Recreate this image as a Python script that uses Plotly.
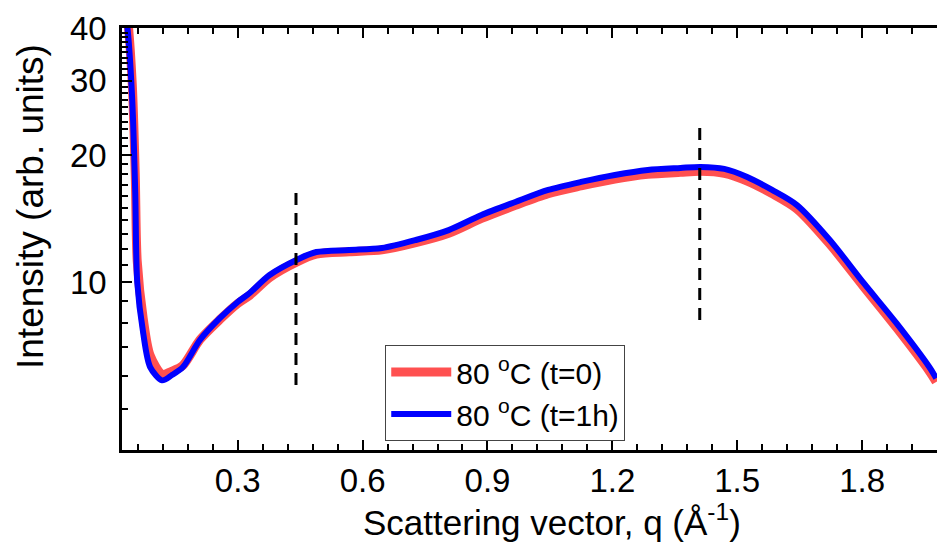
import plotly.graph_objects as go

# Scattering vector q (1/Angstrom)
q = [0.028, 0.0356, 0.0466, 0.0538, 0.0586, 0.0729, 0.0896, 0.1183, 0.142, 0.1685,
     0.2092, 0.257, 0.300, 0.3287, 0.3765, 0.441, 0.4889, 0.5677, 0.6466, 0.7279,
     0.8068, 0.8857, 0.967, 1.0459, 1.1248, 1.206, 1.285, 1.3638, 1.4117, 1.469,
     1.524, 1.5838, 1.6435, 1.7224, 1.8037, 1.8826, 1.9615, 1.978]

# 80 C (t=0)
i_t0 = [47.0, 42.0, 29.5, 18.0, 11.2, 8.2, 6.7, 6.05, 6.15, 6.35,
        7.3, 8.15, 8.9, 9.3, 10.25, 11.15, 11.65, 11.8, 11.92, 12.4,
        13.05, 14.15, 15.2, 16.2, 16.9, 17.55, 18.0, 18.2, 18.3, 18.1,
        17.35, 16.2, 14.9, 12.3, 9.75, 7.8, 6.15, 5.8]

# 80 C (t=1h)
i_t1h = [45.0, 39.6, 27.0, 16.3, 10.0, 7.57, 6.29, 5.85, 6.02, 6.29,
         7.29, 8.21, 8.97, 9.42, 10.39, 11.28, 11.78, 11.91, 12.04, 12.58,
         13.28, 14.42, 15.48, 16.53, 17.27, 17.94, 18.44, 18.64, 18.74, 18.54,
         17.74, 16.53, 15.22, 12.58, 9.95, 7.99, 6.29, 5.92]

series_names = ["80 <sup>o</sup>C (t=0)", "80 <sup>o</sup>C (t=1h)"]
peak_q = [0.44, 1.41]
peak_span = [(0.154, 0.623), (0.308, 0.777)]  # paper fractions

x_ticks = [0.3, 0.6, 0.9, 1.2, 1.5, 1.8]
y_ticks = [10, 20, 30, 40]
y_minor = [5, 6, 7, 8, 9] + list(range(11, 20)) + list(range(21, 40))

x_title = "Scattering vector, q (Å<sup>-1</sup>)"
y_title = "Intensity (arb. units)"

FONT = "Arial, Liberation Sans, sans-serif"

fig = go.Figure()
fig.add_trace(go.Scatter(x=q, y=i_t0, mode="lines", name=series_names[0],
                         line=dict(color="#ff5050", width=9, shape="spline", smoothing=0.8)))
fig.add_trace(go.Scatter(x=q, y=i_t1h, mode="lines", name=series_names[1],
                         line=dict(color="#0000ff", width=6, shape="spline", smoothing=0.8)))

for pq, (y0, y1) in zip(peak_q, peak_span):
    fig.add_shape(type="line", xref="x", yref="paper", x0=pq, x1=pq, y0=y0, y1=y1,
                  line=dict(color="black", width=3, dash="12px,8px"))

fig.add_annotation(text=x_title, xref="paper", yref="paper", x=0.528, y=-0.165,
                   xanchor="center", yanchor="middle", showarrow=False,
                   font=dict(size=35))
fig.add_annotation(text=y_title, xref="paper", yref="paper", x=-0.113, y=0.578,
                   xanchor="center", yanchor="middle", showarrow=False, textangle=-90,
                   font=dict(size=37))

fig.update_layout(
    width=937, height=542,
    margin=dict(l=122, r=0, t=28, b=92),
    paper_bgcolor="white", plot_bgcolor="white",
    font=dict(family=FONT, size=33, color="black"),
    showlegend=True,
    legend=dict(x=0.323, y=0.249, xanchor="left", yanchor="top",
                bgcolor="white", bordercolor="#444", borderwidth=1,
                font=dict(size=30), itemwidth=60, tracegroupgap=0),
    xaxis=dict(range=[0.022, 1.98], tickvals=x_ticks, ticktext=[f"{v:.1f}" for v in x_ticks],
               ticks="inside", ticklen=10, tickwidth=2, tickcolor="black",
               showline=True, linecolor="black", linewidth=2.5, mirror="ticks",
               showgrid=False, zeroline=False,
               minor=dict(tick0=0, dtick=0.06, ticks="inside", ticklen=6, tickwidth=2, tickcolor="black")),
    yaxis=dict(type="log", range=[0.60206, 1.60206], tickvals=y_ticks, ticktext=[str(v) for v in y_ticks],
               ticks="inside", ticklen=10, tickwidth=2, tickcolor="black",
               showline=True, linecolor="black", linewidth=2.5, mirror=False,
               showgrid=False, zeroline=False, ticklabelstandoff=6,
               minor=dict(tickvals=y_minor, ticks="inside", ticklen=6, tickwidth=2, tickcolor="black")),
    yaxis2=dict(type="log", range=[0.60206, 1.60206], overlaying="y", side="right",
                tickvals=y_ticks, showticklabels=False, ticks="inside", ticklen=6,
                tickwidth=2, tickcolor="black", showline=False, showgrid=False, zeroline=False),
)

fig.write_html("out.html")
